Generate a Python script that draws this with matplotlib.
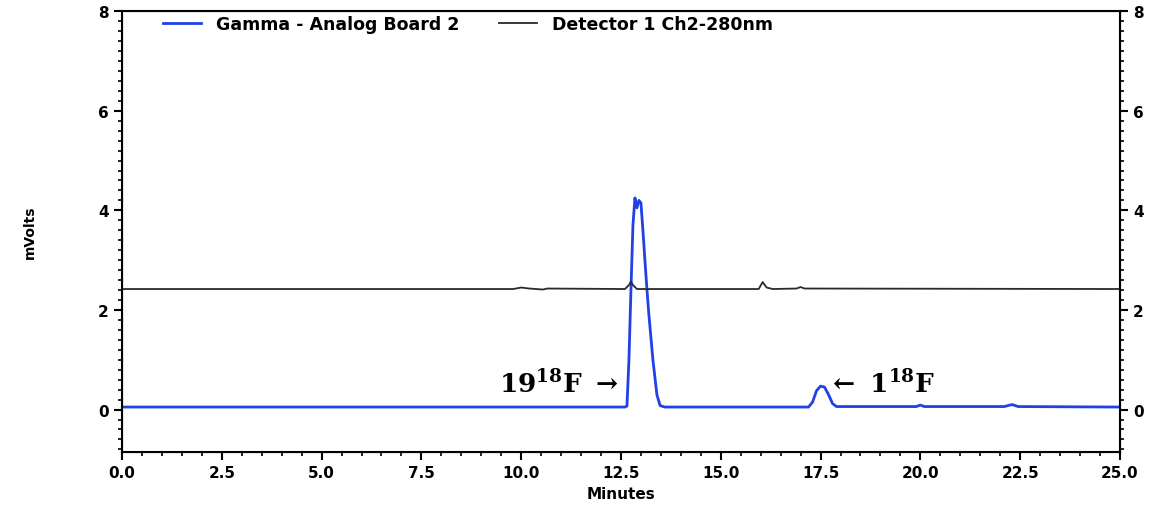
import matplotlib.pyplot as plt
from matplotlib.ticker import MultipleLocator

# Gamma detector trace (minutes, mVolts)
gamma_t = [0.0, 5.0, 10.0, 12.6, 12.65, 12.7, 12.75, 12.8, 12.85, 12.9, 12.95, 13.0,
           13.05, 13.1, 13.15, 13.2, 13.3, 13.4, 13.48, 13.6, 17.2, 17.3, 17.4, 17.5,
           17.6, 17.7, 17.8, 17.9, 19.9, 20.0, 20.1, 22.1, 22.3, 22.45, 25.0]
gamma_v = [0.05, 0.05, 0.05, 0.05, 0.07, 1.0, 2.4, 3.7, 4.25, 4.05, 4.2, 4.15,
           3.6, 3.0, 2.42, 1.9, 1.0, 0.3, 0.08, 0.05, 0.05, 0.15, 0.38, 0.47,
           0.45, 0.3, 0.12, 0.06, 0.06, 0.09, 0.06, 0.06, 0.1, 0.06, 0.05]

# UV detector trace
uv_t = [0.0, 9.8, 10.0, 10.2, 10.55, 10.65, 12.6, 12.7, 12.75, 12.8, 12.9,
        15.95, 16.05, 16.15, 16.3, 16.9, 17.0, 17.1, 25.0]
uv_v = [2.42, 2.42, 2.45, 2.43, 2.41, 2.43, 2.42, 2.5, 2.57, 2.5, 2.42,
        2.42, 2.56, 2.45, 2.42, 2.43, 2.46, 2.43, 2.42]

plt.rcParams['font.family'] = ['DejaVu Sans']
plt.rcParams['font.weight'] = 'bold'
plt.rcParams['mathtext.fontset'] = 'dejavuserif'

fig = plt.figure(figsize=(11.51, 5.06), dpi=100)
ax = fig.add_axes([0.106, 0.105, 0.867, 0.871])

ax.plot(gamma_t, gamma_v, color='#2040e8', lw=2.0, label='Gamma - Analog Board 2')
ax.plot(uv_t, uv_v, color='#2a2a2a', lw=1.3, label='Detector 1 Ch2-280nm')

ax.set_xlim(0, 25)
ax.set_ylim(-0.85, 8)
ax.xaxis.set_major_locator(MultipleLocator(2.5))
ax.xaxis.set_minor_locator(MultipleLocator(0.5))
ax.yaxis.set_major_locator(MultipleLocator(2))
ax.yaxis.set_minor_locator(MultipleLocator(0.2))
ax.xaxis.set_major_formatter(lambda v, p: f'{v:.1f}')
ax.tick_params(which='major', length=6, width=1.5, labelsize=11)
ax.tick_params(which='minor', length=3, width=1.2)
for s in ax.spines.values():
    s.set_linewidth(1.5)

ax2 = ax.twinx()
ax2.set_ylim(ax.get_ylim())
ax2.yaxis.set_major_locator(MultipleLocator(2))
ax2.yaxis.set_minor_locator(MultipleLocator(0.2))
ax2.tick_params(which='major', length=6, width=1.5, labelsize=11)
ax2.tick_params(which='minor', length=3, width=1.2)

ax.set_xlabel('Minutes', fontsize=11, fontweight='bold', labelpad=4)
ax.set_ylabel('mVolts', fontsize=10, fontweight='bold', labelpad=44)

ax.legend(loc='upper left', bbox_to_anchor=(0.025, 1.026), ncol=2, frameon=False,
          prop={'weight': 'bold', 'size': 12.5}, handlelength=2.2,
          handletextpad=0.85, columnspacing=2.3)

ax.text(12.45, 0.52, r'$\mathbf{19^{18}F}$ $\rightarrow$', fontsize=19,
        ha='right', va='center')
ax.text(17.65, 0.52, r'$\leftarrow$ $\mathbf{1^{18}F}$', fontsize=19,
        ha='left', va='center')

fig.savefig('out.png', dpi=100)
